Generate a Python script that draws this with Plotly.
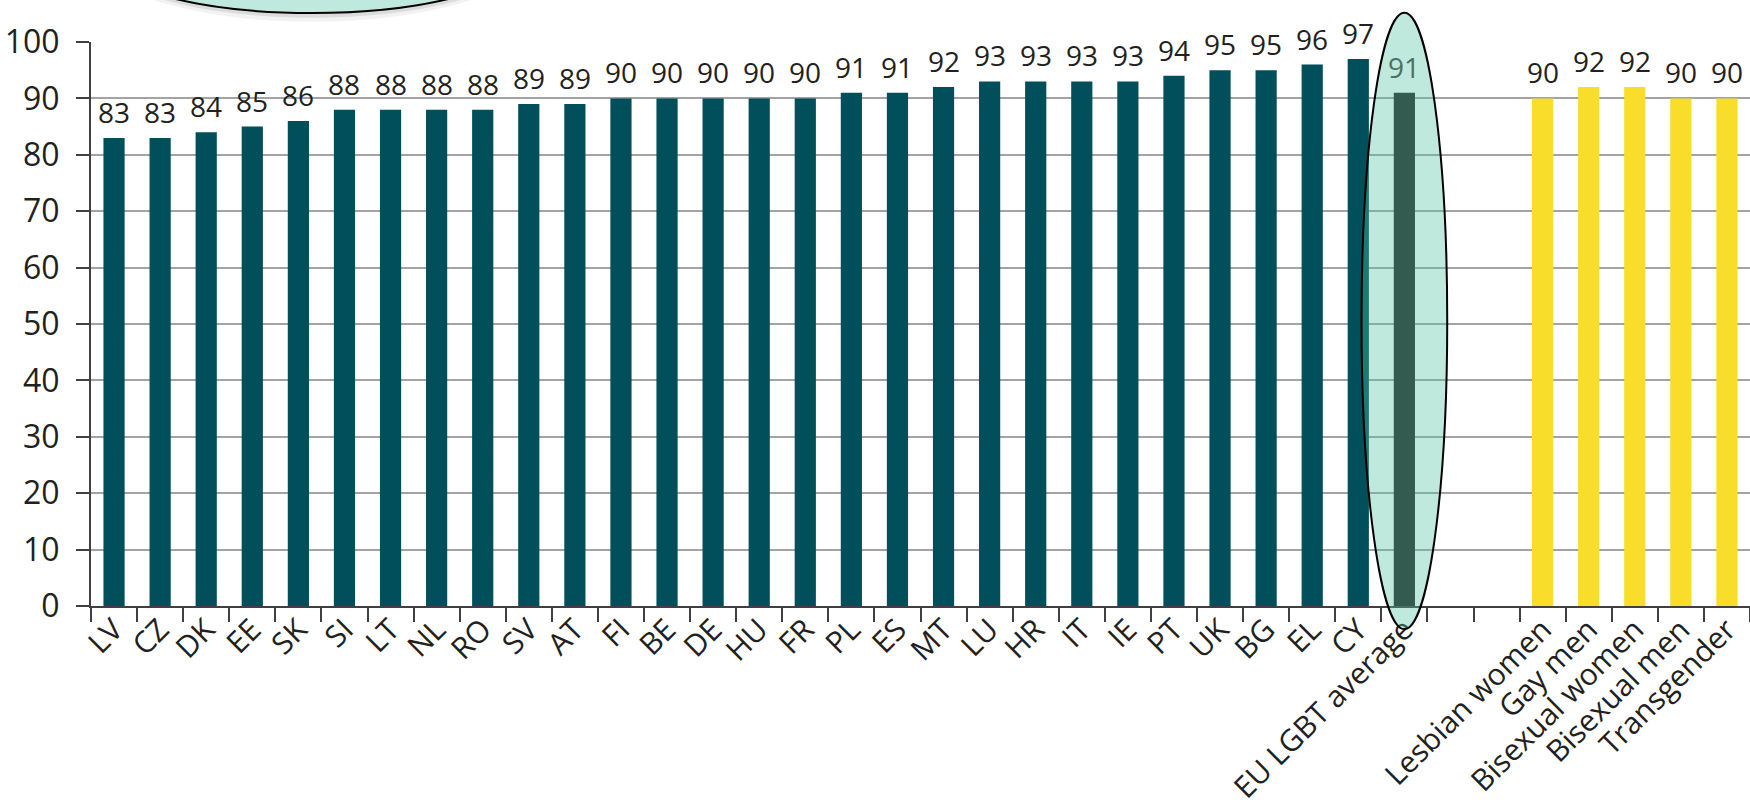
import plotly.graph_objects as go

countries = ["LV", "CZ", "DK", "EE", "SK", "SI", "LT", "NL", "RO", "SV", "AT", "FI", "BE", "DE",
             "HU", "FR", "PL", "ES", "MT", "LU", "HR", "IT", "IE", "PT", "UK", "BG", "EL", "CY"]
country_values = [83, 83, 84, 85, 86, 88, 88, 88, 88, 89, 89, 90, 90, 90,
                  90, 90, 91, 91, 92, 93, 93, 93, 93, 94, 95, 95, 96, 97]
avg_label = ["EU LGBT average"]
avg_value = [91]
gap_slots = [" ", "  "]
groups = ["Lesbian women", "Gay men", "Bisexual women", "Bisexual men", "Transgender"]
group_values = [90, 92, 92, 90, 90]
y_ticks = [0, 10, 20, 30, 40, 50, 60, 70, 80, 90, 100]

TEAL = "#004f5a"
AVG = "#231f20"
YELLOW = "#f9dd2b"
TXT = "#231f20"
FONT = "Open Sans"

all_cats = countries + avg_label + gap_slots + groups
ncat = len(all_cats)

fig = go.Figure()
fig.add_bar(x=countries, y=country_values, marker_color=TEAL, width=0.46,
            marker_line_width=0, hoverinfo="x+y")
fig.add_bar(x=avg_label, y=avg_value, marker_color=AVG, width=0.46,
            marker_line_width=0, hoverinfo="x+y")
fig.add_bar(x=gap_slots, y=[None, None], marker_color=TEAL, width=0.46, hoverinfo="skip")
fig.add_bar(x=groups, y=group_values, marker_color=YELLOW, width=0.46,
            marker_line_width=0, hoverinfo="x+y")

annotations = []
for cat, val in zip(countries, country_values):
    annotations.append(dict(x=cat, y=val, text=str(val), showarrow=False, yanchor="bottom",
                            yshift=5, font=dict(family=FONT, size=28, color=TXT)))
for cat, val in zip(avg_label, avg_value):
    annotations.append(dict(x=cat, y=val, text=str(val), showarrow=False, yanchor="bottom",
                            yshift=5, font=dict(family=FONT, size=28, color="#4a7165")))
for cat, val in zip(groups, group_values):
    annotations.append(dict(x=cat, y=val, text=str(val), showarrow=False, yanchor="bottom",
                            yshift=5, font=dict(family=FONT, size=28, color=TXT)))

# translucent highlight ellipse around the EU average (computed from its category slot)
avg_idx = all_cats.index(avg_label[0])
half_w = 0.93
shapes = [
    # soft shadow of the cut-off callout at the top left
    dict(type="circle", xref="paper", yref="paper", layer="below",
         x0=0.0056, x1=0.2612, y0=1.036, y1=1.264,
         fillcolor="rgba(0,0,0,0.05)", line=dict(width=0)),
    dict(type="circle", xref="paper", yref="paper", layer="below",
         x0=0.0056, x1=0.2612, y0=1.043, y1=1.264,
         fillcolor="rgba(0,0,0,0.09)", line=dict(width=0)),
    dict(type="circle", xref="paper", yref="paper", layer="below",
         x0=0.0054, x1=0.2610, y0=1.0514, y1=1.264,
         fillcolor="#bfe9dc", line=dict(color="black", width=2)),
    dict(type="circle", xref="paper", yref="paper", layer="above",
         x0=(avg_idx + 0.5 - half_w) / ncat, x1=(avg_idx + 0.5 + half_w) / ncat,
         y0=-0.041, y1=1.052,
         fillcolor="rgba(81,195,160,0.37)", line=dict(color="black", width=2)),
]

fig.update_layout(
    width=1750, height=807,
    margin=dict(l=91, r=0, t=42, b=201, pad=0),
    paper_bgcolor="white", plot_bgcolor="white",
    showlegend=False, bargap=0.54,
    font=dict(family=FONT, color=TXT),
    annotations=annotations, shapes=shapes,
)
fig.update_xaxes(
    type="category", categoryorder="array", categoryarray=all_cats,
    range=[-0.5, ncat - 0.5], tickson="boundaries",
    ticks="outside", ticklen=14, tickwidth=2, tickcolor="#404040",
    showline=True, linecolor="#404040", linewidth=2,
    tickangle=-45, tickfont=dict(family=FONT, size=30, color=TXT),
    showgrid=False, automargin=False, ticklabelstandoff=-8,
)
fig.update_yaxes(
    range=[0, 100], tickvals=y_ticks,
    ticks="outside", ticklen=13, tickwidth=2, tickcolor="#404040",
    showline=True, linecolor="#404040", linewidth=2,
    showgrid=True, gridcolor="#a3a3a3", gridwidth=2, zeroline=False,
    tickfont=dict(family=FONT, size=32, color=TXT),
    automargin=False, ticklabelstandoff=10,
)

fig.write_html("out.html", config={"displayModeBar": False},
               post_script="document.body.style.margin='0';")
